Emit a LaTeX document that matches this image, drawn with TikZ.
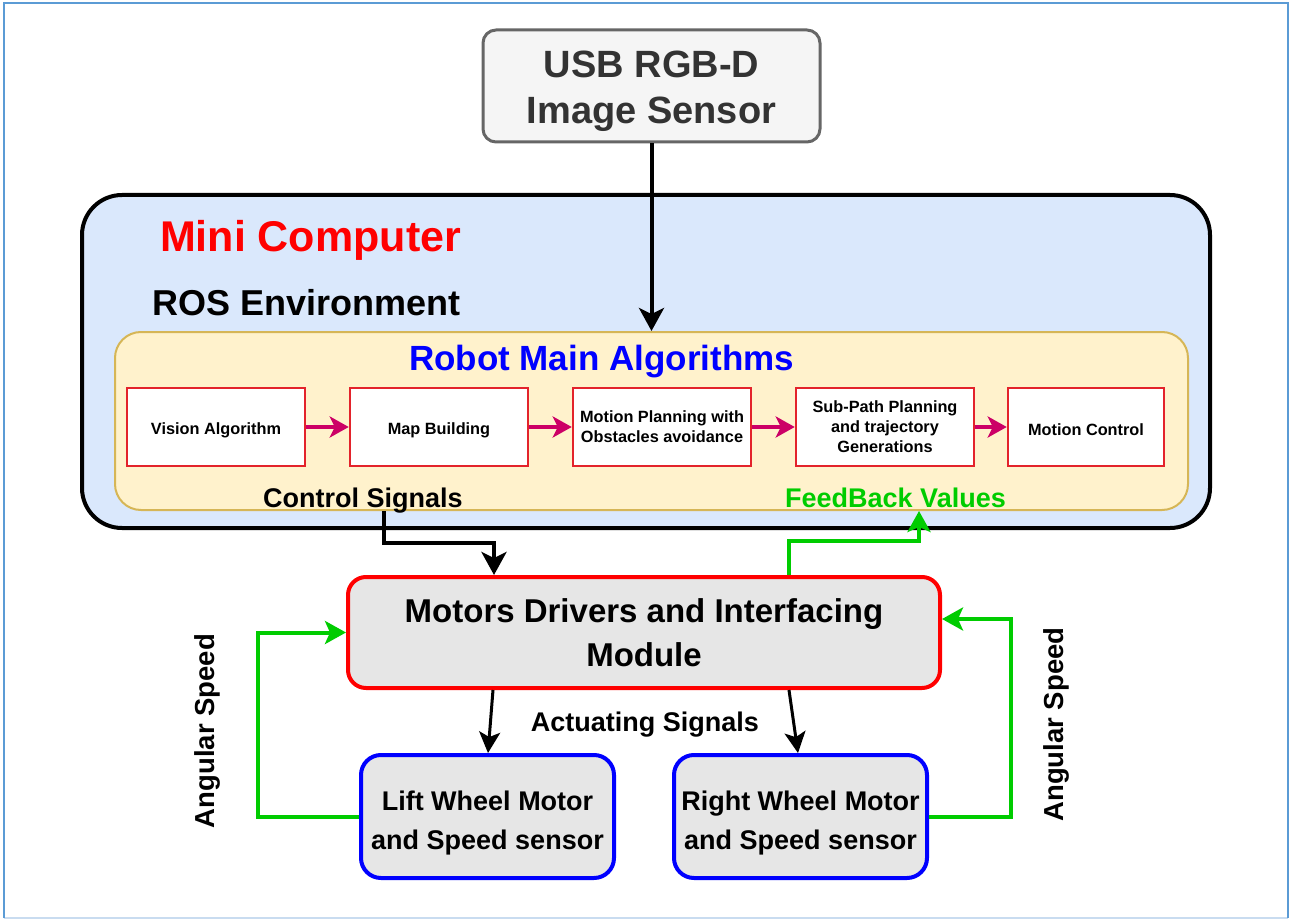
\documentclass[tikz,border=0pt]{standalone}
\usepackage{fontspec}
\setmainfont{Liberation Sans}
\usetikzlibrary{arrows.meta,calc}

\definecolor{framecol}{HTML}{5B9BD5}
\definecolor{framelow}{HTML}{C9DCF0}
\definecolor{sensorfill}{HTML}{F5F5F5}
\definecolor{sensordraw}{HTML}{666666}
\definecolor{sensortext}{HTML}{333333}
\definecolor{pcfill}{HTML}{DAE8FC}
\definecolor{algofill}{HTML}{FFF2CC}
\definecolor{algodraw}{HTML}{D6B656}
\definecolor{stepdraw}{HTML}{E3232B}
\definecolor{stepflow}{HTML}{CC0066}
\definecolor{modfill}{HTML}{E6E6E6}
\definecolor{fbgreen}{HTML}{00CC00}

% font size and leading in one go (bold throughout)
\newcommand{\setfs}[2]{\fontsize{#1}{#2}\selectfont\bfseries}
% invisible strut that lowers a one-line node text a little
\newcommand{\topstrut}[1]{\rule{0pt}{#1}}

\begin{document}
\begin{tikzpicture}[x=1pt,y=-1pt,
  sensorbox/.style={draw=sensordraw,fill=sensorfill,line width=3pt,rounded corners=13pt,
    minimum width=337pt,minimum height=112pt,inner sep=0pt},
  sensortxt/.style={inner sep=0pt,align=center,text=sensortext,font=\setfs{38}{46}},
  pcbox/.style={draw=black,fill=pcfill,line width=4pt,rounded corners=40pt,
    minimum width=1128pt,minimum height=333pt,inner sep=0pt},
  algobox/.style={draw=algodraw,fill=algofill,line width=2pt,rounded corners=26pt,
    minimum width=1073pt,minimum height=178pt,inner sep=0pt},
  stepbox/.style={draw=stepdraw,fill=white,line width=2.5pt,
    minimum width=178pt,minimum height=78pt,inner sep=0pt,align=center,
    font=\setfs{16.3}{20},execute at begin node={\topstrut{17.5pt}}},
  modbox/.style={draw=red,fill=modfill,line width=4pt,rounded corners=18pt,
    minimum width=592pt,minimum height=111pt,inner sep=0pt,align=center,
    font=\setfs{33}{44}},
  wheelbox/.style={draw=blue,fill=modfill,line width=4pt,rounded corners=20pt,
    minimum width=253pt,minimum height=123pt,inner sep=0pt},
  wheeltxt/.style={inner sep=0pt,align=center,font=\setfs{27}{39}},
  lbl/.style={inner sep=0pt,anchor=base},
  flowarrow/.style={draw=stepflow,line width=4pt,-{Stealth[length=19pt,width=21pt,inset=5pt]}},
  sigarrow/.style={draw=black,line width=4pt,-{Stealth[length=23pt,width=25pt,inset=6pt]}},
  actarrow/.style={draw=black,line width=3pt,-{Stealth[length=21pt,width=21pt,inset=5pt]}},
  fbarrow/.style={draw=fbgreen,line width=4pt,-{Stealth[length=21pt,width=23pt,inset=5pt]}},
]
\useasboundingbox (0,0) rectangle (1291,920);

% outer frame
\draw[framelow,line width=2pt] (4,918) -- (1288,918);
\draw[framecol,line width=2.5pt] (4,918) -- (4,3) -- (1288,3) -- (1288,918);

% sensor
\node[sensorbox] (usb) at (651.5,86) {};
\node[sensortxt] (usbtxt) at ($(usb.center)+(0,5)$) {USB RGB-D\\Image Sensor};

% mini computer and the algorithm block inside it
\node[pcbox] (pc) at (646,361.5) {};
\node[lbl,text=red,font=\setfs{43}{50}] (pctitle) at (310.5,251.5) {Mini Computer};
\node[lbl,font=\setfs{36}{42}] (ros) at (306.5,316) {ROS Environment};
\node[algobox] (algo) at (651.5,421) {};
\node[lbl,text=blue,font=\setfs{35}{40}] (algotitle) at (601.5,370) {Robot Main Algorithms};

% algorithm chain
\node[stepbox] (vision) at (216,427) {Vision Algorithm};
\node[stepbox] (map) at (439,427) {Map Building};
\node[stepbox] (plan) at (662,427) {Motion Planning with\\Obstacles avoidance};
\node[stepbox] (subpath) at (885,427) {Sub-Path Planning\\and trajectory\\Generations};
\node[stepbox,minimum width=156pt] (control) at (1086,427) {Motion Control};

\draw[flowarrow] (vision) -- (map);
\draw[flowarrow] (map) -- (plan);
\draw[flowarrow] (plan) -- (subpath);
\draw[flowarrow] (subpath) -- (control);

\node[lbl,font=\setfs{27}{32}] (ctrllbl) at (363,507) {Control Signals};
\node[lbl,text=fbgreen,font=\setfs{27}{32}] (fblbl) at (895.5,507.5) {FeedBack Values};

% sensor into the algorithm block
\draw[sigarrow] (usb.south) -- (usb.south |- algo.north);

% driver module and wheels
\node[modbox] (drv) at (644,632.5) {Motors Drivers and Interfacing\\Module};
\node[wheelbox] (lwheel) at (487.5,816.5) {};
\node[wheeltxt] (lwheeltxt) at ($(lwheel.center)+(0,7)$) {Lift Wheel Motor\\and Speed sensor};
\node[wheelbox] (rwheel) at (800.5,816.5) {};
\node[wheeltxt] (rwheeltxt) at ($(rwheel.center)+(0,7)$) {Right Wheel Motor\\and Speed sensor};
\node[lbl,font=\setfs{27}{32}] (actlbl) at (645,731) {Actuating Signals};

\coordinate (ctrlsrc) at (384,511);
\coordinate (fbdst) at (919,511);
\draw[sigarrow] (ctrlsrc) -- ++(0,32) -| ($(drv.north west)+(148,0)$);
\draw[fbarrow] ($(drv.north west)+(443,0)$) -- ++(0,-34) -| (fbdst);

\draw[actarrow] ($(drv.south west)+(147,0)$) -- ($(lwheel.north west)+(129,0)$);
\draw[actarrow] ($(drv.south west)+(443,0)$) -- ($(rwheel.north west)+(126,0)$);

% speed feedback loops
\draw[fbarrow] (lwheel.west) -- ++(-101,0) |- (drv.west);
\draw[fbarrow] (rwheel.east) -- ++(82,0) |- ($(drv.east)+(0,-13.5)$);

\node[inner sep=0pt,rotate=90,font=\setfs{27.5}{32}] (lspeed) at (207,731) {Angular Speed};
\node[inner sep=0pt,rotate=90,font=\setfs{27.5}{32}] (rspeed) at (1056.5,724.5) {Angular Speed};
\end{tikzpicture}
\end{document}
